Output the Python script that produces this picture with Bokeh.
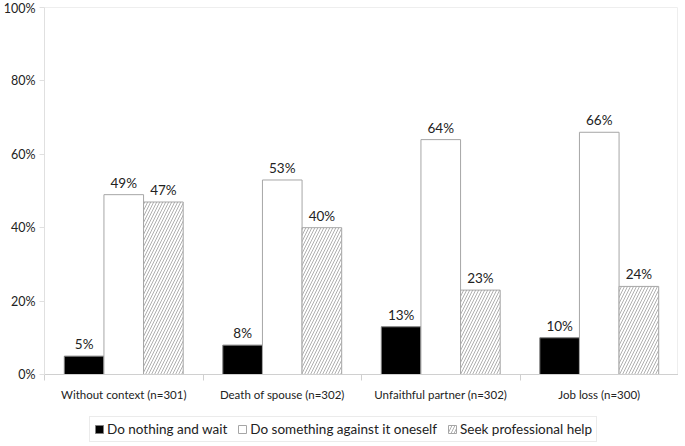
from bokeh.plotting import figure
from bokeh.layouts import column
from bokeh.core.properties import value
from bokeh.models import (ColumnDataSource, FixedTicker, PrintfTickFormatter,
                          Legend, LegendItem, Range1d, LabelSet)
from bokeh.embed import file_html
from bokeh.resources import INLINE

categories = ["Without context (n=301)", "Death of spouse (n=302)",
              "Unfaithful partner (n=302)", "Job loss (n=300)"]
do_nothing = [5, 8, 13, 10]
do_oneself = [49, 53, 64, 66]
seek_help = [47, 40, 23, 24]
series_names = ["Do nothing and wait", "Do something against it oneself", "Seek professional help"]
y_ticks = [0, 20, 40, 60, 80, 100]

FONT = "Lato"
centers = [i + 0.5 for i in range(len(categories))]
bw = 0.25

p = figure(frame_width=634, frame_height=367, output_backend="svg", toolbar_location=None,
           x_range=Range1d(0, len(categories)), y_range=Range1d(0, 100),
           min_border_left=35, min_border_right=0, min_border_top=7, min_border_bottom=36)
p.grid.visible = False
p.outline_line_color = "#eeeeee"

series = [do_nothing, do_oneself, seek_help]
offsets = [-bw, 0, bw]
styles = [
    dict(fill_color="black", line_color="#7f7f7f"),
    dict(fill_color="white", line_color="#a6a6a6"),
    dict(fill_color="white", line_color="#a6a6a6", hatch_pattern="/",
         hatch_color="#9a9a9a", hatch_scale=6, hatch_weight=0.8),
]
sources = []
for vals, off, st in zip(series, offsets, styles):
    src = ColumnDataSource(dict(x=[c + off for c in centers], top=vals,
                                lab=[f"{v}%" for v in vals]))
    sources.append(src)
    p.vbar(x="x", top="top", width=bw, source=src, line_width=1, **st)
    p.add_layout(LabelSet(x="x", y="top", text="lab", source=src, text_align="center",
                          text_baseline="bottom", y_offset=4, text_font=value(FONT),
                          text_font_size=value("13.5px"), text_color="#222222"))

# x axis
xa = p.xaxis[0]
xa.ticker = FixedTicker(ticks=centers, minor_ticks=list(range(len(categories) + 1)))
xa.major_label_overrides = {c: cat for c, cat in zip(centers, categories)}
xa.major_tick_line_color = None
xa.major_tick_out = 0
xa.major_tick_in = 0
xa.minor_tick_line_color = "#d0d0d0"
xa.minor_tick_out = 6
xa.minor_tick_in = 0
xa.axis_line_color = "#d0d0d0"
xa.major_label_text_font = FONT
xa.major_label_text_font_size = "11.5px"
xa.major_label_text_color = "#222222"
xa.major_label_standoff = 7

ya = p.yaxis[0]
ya.ticker = FixedTicker(ticks=y_ticks, minor_ticks=[])
ya.formatter = PrintfTickFormatter(format="%d%%")
ya.axis_line_color = "#e0e0e0"
ya.major_tick_line_color = "#e0e0e0"
ya.major_tick_out = 5
ya.major_tick_in = 0
ya.major_label_text_font = FONT
ya.major_label_text_font_size = "12.5px"
ya.major_label_text_color = "#222222"
ya.major_label_standoff = 4

# legend in its own strip below the chart (bars there lie outside its view)
lf = figure(width=669, height=34, output_backend="svg", toolbar_location=None,
            min_border=0, x_range=Range1d(0, 1), y_range=Range1d(1000, 1001))
lf.axis.visible = False
lf.grid.visible = False
lf.outline_line_color = None
leg_renderers = []
for src, st in zip(sources, styles):
    leg_renderers.append(lf.vbar(x="x", top="top", width=bw, source=src, line_width=1, **st))

legend = Legend(items=[LegendItem(label=n, renderers=[r]) for n, r in zip(series_names, leg_renderers)],
                orientation="horizontal", location=(45, 2),
                label_text_font=FONT, label_text_font_size="13.5px", label_text_color="#222222",
                label_height=14, glyph_width=10, glyph_height=10, spacing=10, label_standoff=3,
                border_line_color="#d8d8d8", padding=4, margin=0,
                background_fill_alpha=1)
lf.add_layout(legend, "center")

layout = column(p, lf, spacing=0)
open("out.html", "w").write(file_html(layout, INLINE))
